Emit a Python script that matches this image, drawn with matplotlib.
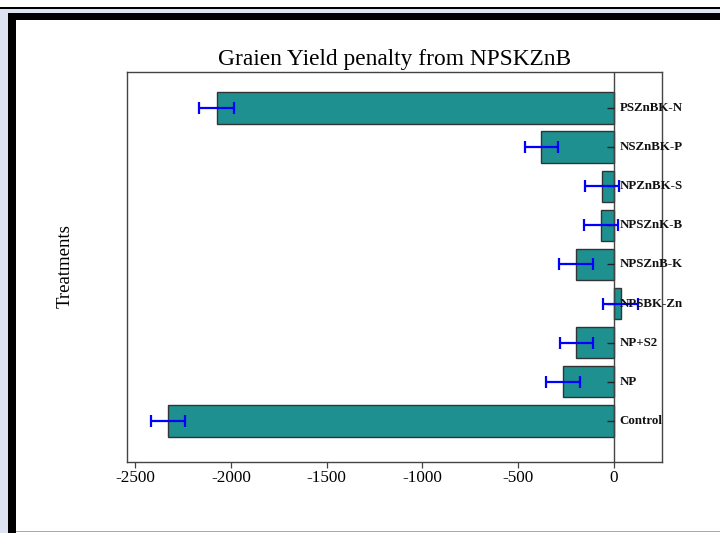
#!/usr/bin/env python3
"""
Horizontal bar chart: grain yield penalty from NPSKZnB omission treatments.
"""

import matplotlib
matplotlib.use("Agg")
import matplotlib.pyplot as plt
from matplotlib.lines import TICKLEFT
from matplotlib.patches import Rectangle

FIG_W_PX, FIG_H_PX = 720, 533
DPI = 100

# bottom to top, as drawn
treatments = ["Control", "NP", "NP+S2", "NPSBK-Zn", "NPSZnB-K",
              "NPSZnK-B", "NPZnBK-S", "NSZnBK-P", "PSZnBK-N"]
penalty = [-2330, -265, -195, 35, -198, -66, -60, -380, -2073]
err = [89, 88, 88, 89, 89, 89, 89, 86, 91]
x_ticks = [-2500, -2000, -1500, -1000, -500, 0]

TITLE = "Graien Yield penalty from NPSKZnB"
YLABEL = "Treatments"

BAR_COLOR = "#1f9090"
BAR_EDGE = "#333333"
ERR_COLOR = "#0000ff"
AXIS_COLOR = "#444444"


def add_page_frame(fig):
    """Mimic the screenshot frame (black bands + light blue margin)."""
    def px_rect(x0, y0, w, h, color):
        fig.patches.append(Rectangle(
            (x0 / FIG_W_PX, 1 - (y0 + h) / FIG_H_PX), w / FIG_W_PX, h / FIG_H_PX,
            transform=fig.transFigure, facecolor=color, edgecolor="none",
            zorder=-1))

    px_rect(0, 9, FIG_W_PX, 4, "#dce4f2")
    px_rect(0, 9, 8, FIG_H_PX - 9, "#dce4f2")
    px_rect(0, 7.5, FIG_W_PX, 1.8, "black")
    px_rect(8, 13, FIG_W_PX - 8, 7, "black")
    px_rect(8, 13, 8, FIG_H_PX - 13, "black")
    px_rect(16, 530.5, FIG_W_PX - 16, 1.5, "#aaaaaa")


def main():
    plt.rcParams["font.family"] = ["Liberation Serif", "DejaVu Serif"]
    fig = plt.figure(figsize=(FIG_W_PX / DPI, FIG_H_PX / DPI), dpi=DPI)
    add_page_frame(fig)

    ax = fig.add_axes([0.1757, 0.1332, 0.7433, 0.7318])
    pos = list(range(len(treatments)))

    ax.barh(pos, penalty, height=0.8, color=BAR_COLOR, edgecolor=BAR_EDGE,
            linewidth=1.0, zorder=2)
    ax.errorbar(penalty, pos, xerr=err, fmt="none", ecolor=ERR_COLOR,
                elinewidth=1.6, capsize=4.5, capthick=1.6, zorder=4)

    ax.axvline(0, color=AXIS_COLOR, lw=1.0, zorder=3)
    ax.plot([0] * len(pos), pos, ls="none", marker=TICKLEFT, ms=5,
            mew=1.0, color="#222222", zorder=3)
    for y, name in zip(pos, treatments):
        ax.annotate(name, xy=(0, y), xytext=(4, 0), textcoords="offset points",
                    ha="left", va="center", fontsize=9.3, fontweight="bold",
                    color="#111111", zorder=5)

    ax.set_xlim(-2545, 250)
    ax.set_ylim(-1.05, 8.92)
    ax.set_xticks(x_ticks)
    ax.set_xticklabels([str(v) for v in x_ticks])
    ax.set_yticks([])
    ax.tick_params(axis="x", direction="out", length=4, width=0.9,
                   color=AXIS_COLOR, labelsize=12.3, pad=2)
    for sp in ax.spines.values():
        sp.set_color(AXIS_COLOR)
        sp.set_linewidth(1.0)

    ax.set_title(TITLE, fontsize=16.8, pad=5)
    fig.text(0.091, 0.5, YLABEL, rotation=90, ha="center", va="center",
             fontsize=13.5)

    fig.savefig("out.png", dpi=DPI)
    plt.close(fig)


if __name__ == "__main__":
    main()
